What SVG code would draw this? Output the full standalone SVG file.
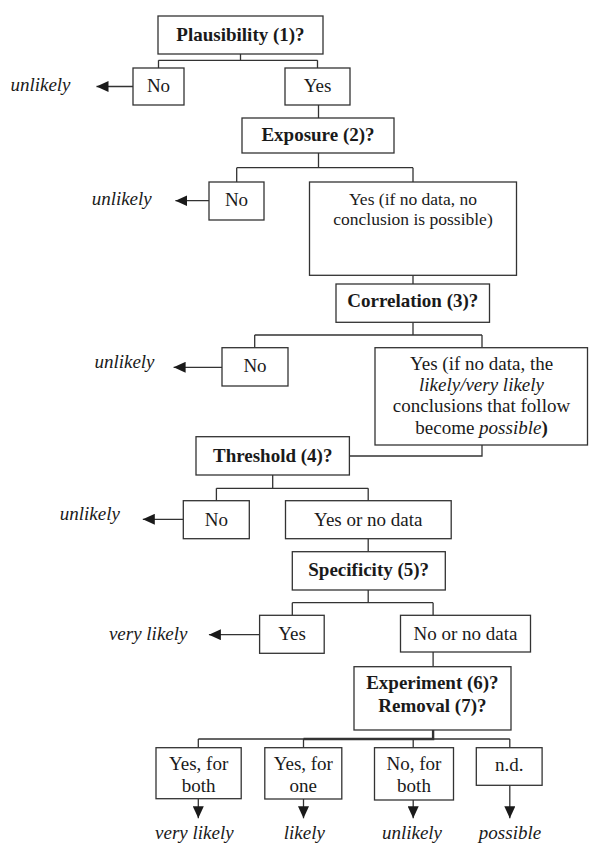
<svg xmlns="http://www.w3.org/2000/svg" width="589" height="843" viewBox="0 0 589 843">
<defs>
<marker id="ah" markerUnits="userSpaceOnUse" markerWidth="13" markerHeight="11" refX="12" refY="5.5" orient="auto"><path d="M0,0 L12,5.5 L0,11 Z" fill="#1a1a1a"/></marker>
<style>
.box{fill:#fff;stroke:#333;stroke-width:1.3}
.ln{fill:none;stroke:#333;stroke-width:1.3}
.arr{fill:none;stroke:#333;stroke-width:1.3;marker-end:url(#ah)}
.t{font-family:"Liberation Serif","Times New Roman",serif;font-size:19px;fill:#1a1a1a;text-anchor:middle}
.b{font-weight:bold}
.i{font-style:italic}
.s{font-size:17.5px}
</style>
</defs>
<rect width="589" height="843" fill="#fff"/>
<g id="connectors">
<path class="ln" d="M240.5,54 V60.3 M158.5,60.3 H317.5 M158.5,60.3 V68 M317.5,60.3 V68"/>
<path class="ln" d="M318.5,105 V118"/>
<path class="ln" d="M318.5,153 V167.7 M236.7,167.7 H413 M236.7,167.7 V182 M413,167.7 V182"/>
<path class="ln" d="M413,275.3 V284"/>
<path class="ln" d="M413,322.3 V335 M254.7,335 H482 M254.7,335 V347.7 M482,335 V347.7"/>
<path class="ln" d="M482,445 V456 H349.4"/>
<path class="ln" d="M272.7,475 V488.3 M216.4,488.3 H368.2 M216.4,488.3 V500.7 M368.2,488.3 V500.7"/>
<path class="ln" d="M368.2,538.7 V551.7"/>
<path class="ln" d="M368.2,590 V602.7 M292.3,602.7 H433.1 M292.3,602.7 V615.3 M433.1,602.7 V615.3"/>
<path class="ln" d="M433.1,652 V666.7"/>
<path class="ln" d="M433.1,730 V739 M198.3,739 H509.8 M198.3,739 V747.7 M303.5,739 V747.7 M413.2,739 V747.7 M509.8,739 V747.7"/>
<path class="ln" style="stroke-width:2.4" d="M303.5,739 H433.1 V730"/>
<path class="arr" d="M133,86.5 H96.5"/>
<path class="arr" d="M209,200.7 H175.4"/>
<path class="arr" d="M222,367.3 H173.6"/>
<path class="arr" d="M183.3,519.3 H142.8"/>
<path class="arr" d="M259.6,634.7 H208.9"/>
<path class="arr" d="M198.3,798.7 V818.3"/>
<path class="arr" d="M303.5,799 V818.3"/>
<path class="arr" d="M413.2,800 V818.3"/>
<path class="arr" d="M509.8,785.3 V818.3"/>
</g>
<g id="plausibility"><rect class="box" x="158" y="16" width="165" height="38"/><text class="t b" x="240.5" y="41">Plausibility (1)?</text></g>
<g id="p-no"><rect class="box" x="133" y="68" width="51" height="37"/><text class="t" x="158.5" y="92">No</text></g>
<g id="p-yes"><rect class="box" x="285" y="68" width="65" height="37"/><text class="t" x="317.5" y="92">Yes</text></g>
<g id="out1"><text class="t i" x="40.5" y="91">unlikely</text></g>
<g id="exposure"><rect class="box" x="242" y="118" width="152" height="35"/><text class="t b" x="318" y="141">Exposure (2)?</text></g>
<g id="e-no"><rect class="box" x="209" y="182" width="55" height="38"/><text class="t" x="236.5" y="206">No</text></g>
<g id="e-yes"><rect class="box" x="309.5" y="182" width="207" height="93.3"/><text class="t s" x="413" y="205">Yes (if no data, no</text><text class="t s" x="413" y="224.5">conclusion is possible)</text></g>
<g id="out2"><text class="t i" x="121.7" y="205">unlikely</text></g>
<g id="correlation"><rect class="box" x="336" y="284" width="153.5" height="38.3"/><text class="t b" x="412.8" y="307">Correlation (3)?</text></g>
<g id="c-no"><rect class="box" x="222" y="347.7" width="66" height="38.3"/><text class="t" x="255" y="372">No</text></g>
<g id="c-yes"><rect class="box" x="375" y="347.7" width="212.5" height="97.3"/><text class="t" x="481.5" y="370">Yes (if no data, the</text><text class="t" x="481.5" y="391"><tspan class="i">likely/very likely</tspan></text><text class="t" x="481.5" y="412">conclusions that follow</text><text class="t" x="481.5" y="433.5">become <tspan class="i">possible</tspan><tspan class="b">)</tspan></text></g>
<g id="out3"><text class="t i" x="124.5" y="368">unlikely</text></g>
<g id="threshold"><rect class="box" x="196" y="436.7" width="153.4" height="38.3"/><text class="t b" x="272.7" y="461.5">Threshold (4)?</text></g>
<g id="t-no"><rect class="box" x="183.3" y="500.7" width="66" height="38"/><text class="t" x="216.4" y="525.5">No</text></g>
<g id="t-yes"><rect class="box" x="285.5" y="500.7" width="165.7" height="38"/><text class="t" x="368.3" y="525.5">Yes or no data</text></g>
<g id="out4"><text class="t i" x="89.8" y="520">unlikely</text></g>
<g id="specificity"><rect class="box" x="292.3" y="551.7" width="153" height="38.3"/><text class="t b" x="368.7" y="576">Specificity (5)?</text></g>
<g id="s-yes"><rect class="box" x="259.6" y="615.3" width="64.6" height="38"/><text class="t" x="292" y="640">Yes</text></g>
<g id="s-no"><rect class="box" x="400.5" y="615.3" width="130" height="36.7"/><text class="t" x="465.5" y="640">No or no data</text></g>
<g id="out5"><text class="t i" x="148.2" y="640">very likely</text></g>
<g id="experiment"><rect class="box" x="354" y="666.7" width="157" height="63.3"/><text class="t b" x="432.4" y="689">Experiment (6)?</text><text class="t b" x="432.4" y="712">Removal (7)?</text></g>
<g id="r1"><rect class="box" x="156" y="747.7" width="85.2" height="51"/><text class="t" x="198.6" y="770">Yes, for</text><text class="t" x="198.6" y="792">both</text></g>
<g id="r2"><rect class="box" x="264.8" y="747.7" width="77" height="51.3"/><text class="t" x="303.3" y="770">Yes, for</text><text class="t" x="303.3" y="792">one</text></g>
<g id="r3"><rect class="box" x="374.5" y="747.7" width="79" height="52.3"/><text class="t" x="414" y="770">No, for</text><text class="t" x="414" y="792">both</text></g>
<g id="r4"><rect class="box" x="476.3" y="747.7" width="65.8" height="37.6"/><text class="t" x="509.2" y="771">n.d.</text></g>
<g id="outcomes"><text class="t i" x="194.4" y="838.5">very likely</text><text class="t i" x="304.3" y="838.5">likely</text><text class="t i" x="412" y="838.5">unlikely</text><text class="t i" x="510" y="838.5">possible</text></g>
</svg>
